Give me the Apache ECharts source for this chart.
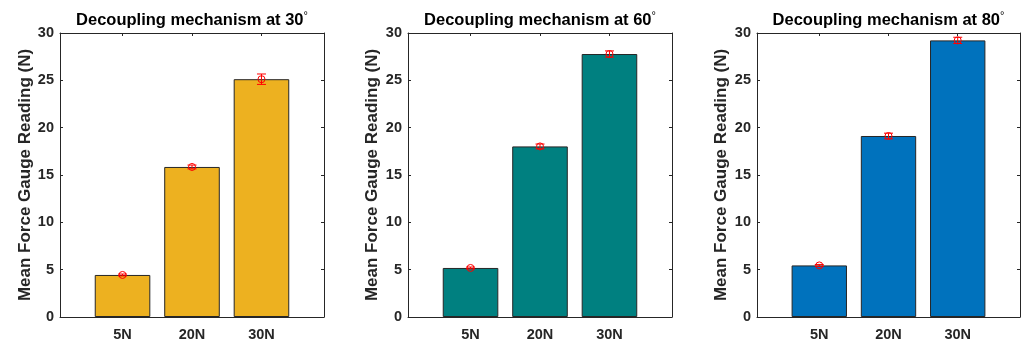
<!DOCTYPE html>
<html>
<head>
<meta charset="utf-8">
<script src="https://cdn.jsdelivr.net/npm/echarts@6/dist/echarts.min.js"></script>
<style>
  html, body { margin: 0; padding: 0; background: #fff; }
  #chart { width: 1024px; height: 345px; }
</style>
</head>
<body>
<div id="chart"></div>
<script>
// Load categories and per-angle results
const categories = ['5N', '20N', '30N'];
const yTicks = [0, 5, 10, 15, 20, 25, 30];

const mean30 = [4.44, 15.85, 25.12];
const err30 = [0.1, 0.2, 0.55];
const mean60 = [5.18, 18.02, 27.78];
const err60 = [0.1, 0.25, 0.33];
const mean80 = [5.45, 19.12, 29.22];
const err80 = [0.1, 0.3, 0.33];

const angles = ['30', '60', '80'];
const barColors = ['#EDB120', '#008080', '#0072BD'];

const ink = '#262626';
const font = '"Liberation Sans", Arial, Helvetica, sans-serif';

const panels = [
  { left: 60, width: 264, nameGap: 23, mean: mean30, err: err30 },
  { left: 408, width: 264, nameGap: 27, mean: mean60, err: err60 },
  { left: 757, width: 263, nameGap: 27, mean: mean80, err: err80 }
];
const gridTop = 33, gridHeight = 284;

const positions = categories.map((c, i) => i + 1);

const grid = [], xAxis = [], yAxis = [], series = [], graphic = [];

panels.forEach((p, k) => {
  grid.push({ left: p.left, top: gridTop, width: p.width, height: gridHeight, containLabel: false });

  const xBase = {
    type: 'value', gridIndex: k, min: 0.1, max: 3.9,
    splitLine: { show: false },
    axisLine: { show: true, onZero: false, lineStyle: { color: ink, width: 1 } },
    axisTick: { show: true, inside: true, length: 3, customValues: positions, lineStyle: { color: ink } }
  };
  xAxis.push(Object.assign({}, xBase, {
    position: 'bottom',
    axisLabel: {
      show: true, customValues: positions, margin: 10,
      color: ink, fontFamily: font, fontWeight: 'bold', fontSize: 14.5,
      formatter: v => categories[Math.round(v) - 1] || ''
    }
  }));
  xAxis.push(Object.assign({}, xBase, { position: 'top', axisLabel: { show: false } }));

  const yBase = {
    type: 'value', gridIndex: k, min: 0, max: 30, interval: 5,
    splitLine: { show: false },
    axisLine: { show: true, lineStyle: { color: ink, width: 1 } },
    axisTick: { show: true, inside: true, length: 3, lineStyle: { color: ink } }
  };
  yAxis.push(Object.assign({}, yBase, {
    position: 'left',
    name: 'Mean Force Gauge Reading (N)',
    nameLocation: 'middle', nameGap: p.nameGap,
    nameTextStyle: { color: ink, fontFamily: font, fontWeight: 'bold', fontSize: 17 },
    axisLabel: {
      show: true, margin: 6, color: ink, fontFamily: font, fontWeight: 'bold', fontSize: 14.5,
      customValues: yTicks
    }
  }));
  yAxis.push(Object.assign({}, yBase, { position: 'right', axisLabel: { show: false } }));

  const xi = k * 2, yi = k * 2;

  series.push({
    type: 'bar', xAxisIndex: xi, yAxisIndex: yi,
    barWidth: '80%',
    itemStyle: { color: barColors[k], borderColor: ink, borderWidth: 1 },
    data: positions.map((x, i) => [x, p.mean[i]]),
    silent: true, animation: false
  });

  // Vertical error bars with end caps
  series.push({
    type: 'custom', xAxisIndex: xi, yAxisIndex: yi,
    data: positions.map((x, i) => [x, p.mean[i] - p.err[i], p.mean[i] + p.err[i]]),
    renderItem: (params, api) => {
      const lo = api.coord([api.value(0), api.value(1)]);
      const hi = api.coord([api.value(0), api.value(2)]);
      const cap = 4.5;
      const st = { stroke: '#FF0000', lineWidth: 1 };
      return {
        type: 'group',
        children: [
          { type: 'line', shape: { x1: lo[0], y1: lo[1], x2: hi[0], y2: hi[1] }, style: st },
          { type: 'line', shape: { x1: lo[0] - cap, y1: lo[1], x2: lo[0] + cap, y2: lo[1] }, style: st },
          { type: 'line', shape: { x1: hi[0] - cap, y1: hi[1], x2: hi[0] + cap, y2: hi[1] }, style: st }
        ]
      };
    },
    silent: true, animation: false, z: 3
  });

  // Hollow circle markers at the means
  series.push({
    type: 'scatter', xAxisIndex: xi, yAxisIndex: yi,
    symbol: 'circle', symbolSize: 7,
    itemStyle: { color: 'rgba(0,0,0,0)', borderColor: '#FF0000', borderWidth: 1, opacity: 1 },
    data: positions.map((x, i) => [x, p.mean[i]]),
    silent: true, animation: false, z: 4
  });

  graphic.push({
    type: 'text',
    x: p.left + p.width / 2, y: 20,
    style: {
      text: '{t|Decoupling mechanism at ' + angles[k] + '}{d|°}',
      align: 'center', verticalAlign: 'middle',
      rich: {
        t: { fontFamily: font, fontWeight: 'bold', fontSize: 16.5, lineHeight: 20, fill: '#000', color: '#000' },
        d: { fontFamily: font, fontWeight: 'normal', fontSize: 11, lineHeight: 11, verticalAlign: 'top', fill: '#000', color: '#000' }
      }
    }
  });
});

const chart = echarts.init(document.getElementById('chart'), null, { renderer: 'canvas' });
chart.setOption({
  animation: false,
  backgroundColor: '#fff',
  grid, xAxis, yAxis, series, graphic
});
</script>
</body>
</html>
